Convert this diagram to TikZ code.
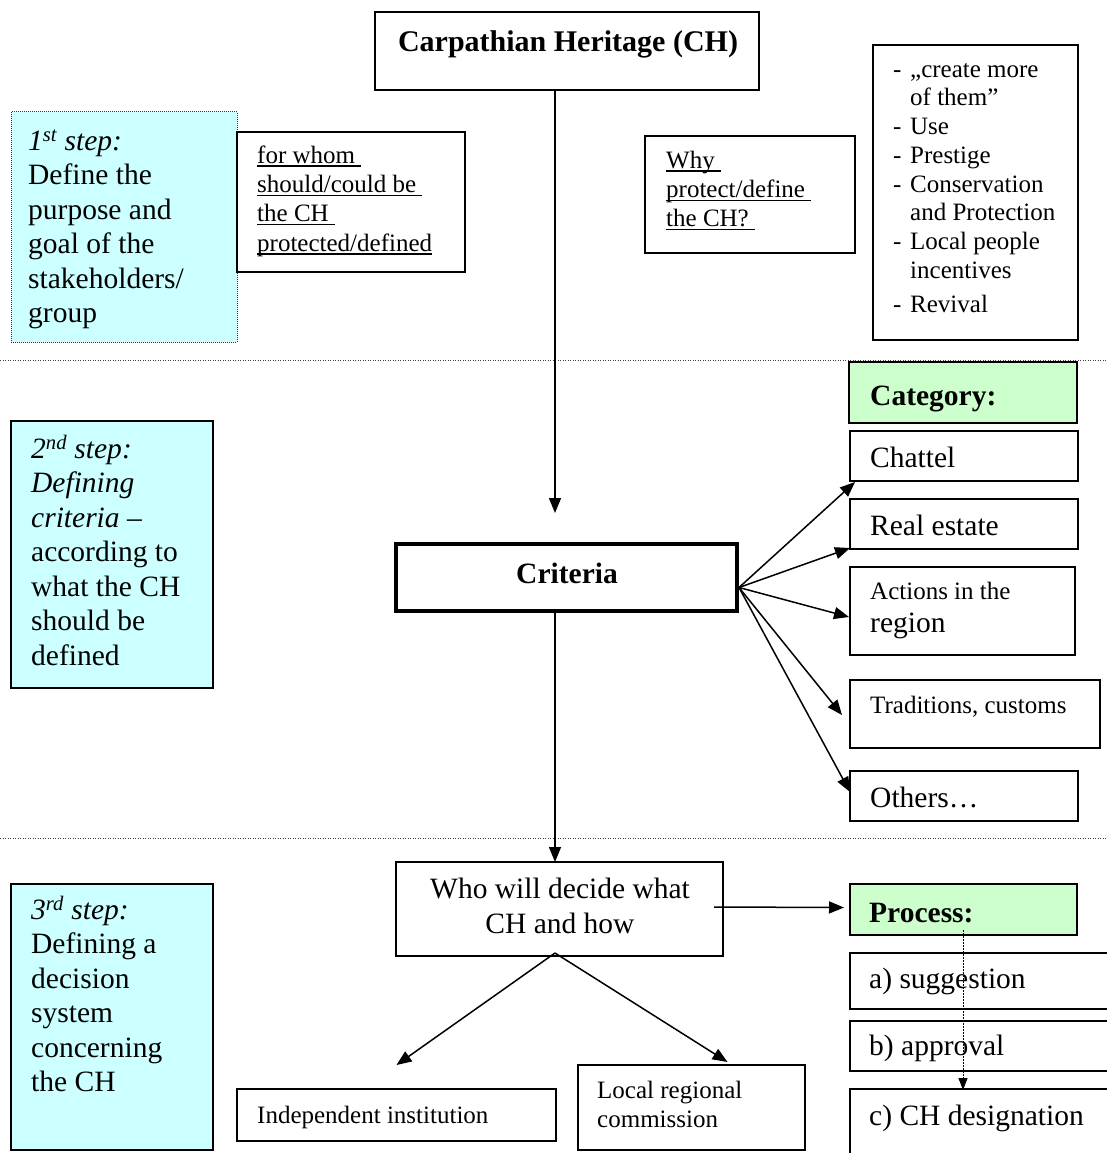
\documentclass[tikz,border=0pt]{standalone}
\usepackage{fontspec}
\setmainfont{Liberation Serif}
\usetikzlibrary{arrows.meta,calc}
\definecolor{stepcyan}{HTML}{CCFFFF}
\definecolor{catgreen}{HTML}{CCFFCC}
\newcommand\tstr{\rule{0pt}{25pt}}
\newcommand\myul[1]{\setbox0\hbox{#1}\rlap{\rule[-3.5pt]{\wd0}{1.3pt}}\box0}
\begin{document}
\begin{tikzpicture}[x=1pt,y=-1pt,
 bx/.style={draw, line width=1.5pt, inner sep=0pt, outer sep=0pt, anchor=north west, rectangle},
 stepbox/.style={bx, fill=stepcyan},
 catbox/.style={bx, fill=catgreen},
 txt/.style={inner sep=0pt, anchor=north west, align=left},
 lbl/.style={inner sep=0pt, anchor=base west},
 big/.style={font=\fontsize{29.5}{34.5}\selectfont},
 bigb/.style={font=\fontsize{29.5}{34.5}\selectfont\bfseries},
 small/.style={font=\fontsize{25}{29.3}\selectfont},
 arr/.style={line width=1.5pt, -{Triangle[length=15pt,width=12pt]}},
 sep/.style={line width=1pt, dash pattern=on 1pt off 1.5pt, black!75},
]
\useasboundingbox (0,0) rectangle (1107,1153);

% separators
\draw[sep] (0,360) -- (1107,360);
\draw[sep] (0,838) -- (1107,838);

% ---- boxes
\node[bx, minimum width=384pt, minimum height=78pt] (title) at (375,12) {};
\node[stepbox, draw=black!80, line width=1pt, dash pattern=on 1pt off 1pt, minimum width=226pt, minimum height=230pt] (s1) at (11,112) {};
\node[bx, minimum width=228pt, minimum height=140pt] (whom) at (237,132) {};
\node[bx, minimum width=210pt, minimum height=117pt] (why) at (645,136) {};
\node[bx, minimum width=205pt, minimum height=295pt] (list) at (873,45) {};
\node[stepbox, minimum width=202pt, minimum height=267pt] (s2) at (11,421) {};
\node[bx, line width=4.5pt, minimum width=341pt, minimum height=67pt] (crit) at (396,544) {};
\node[catbox, minimum width=228pt, minimum height=61pt] (cat) at (849,362) {};
\node[bx, minimum width=228pt, minimum height=50pt] (chat) at (850,431) {};
\node[bx, minimum width=228pt, minimum height=50pt] (real) at (850,499) {};
\node[bx, minimum width=225pt, minimum height=88pt] (act) at (850,567) {};
\node[bx, minimum width=250pt, minimum height=68pt] (trad) at (850,680) {};
\node[bx, minimum width=228pt, minimum height=50pt] (oth) at (850,771) {};
\node[bx, minimum width=327pt, minimum height=94pt] (who) at (396,862) {};
\node[catbox, minimum width=227pt, minimum height=51pt] (proc) at (850,884) {};
\node[bx, minimum width=280pt, minimum height=56pt] (sa) at (850,953) {};
\node[bx, minimum width=280pt, minimum height=50pt] (sb) at (850,1021) {};
\node[bx, minimum width=280pt, minimum height=100pt] (sc) at (850,1089) {};
\node[stepbox, minimum width=202pt, minimum height=266pt] (s3) at (11,884) {};
\node[bx, minimum width=319pt, minimum height=52pt] (indep) at (237,1089) {};
\node[bx, minimum width=227pt, minimum height=85pt] (local) at (578,1065) {};

% ---- texts
\node[inner sep=0pt, anchor=base, font=\fontsize{30}{35}\selectfont\bfseries] (titlet) at (568,52) {Carpathian Heritage (CH)};
\node[txt, big] (s1t) at (28,125) {\tstr\textit{1\textsuperscript{st} step:}\\Define the\\purpose and\\goal of the\\stakeholders/\\group};
\node[txt, small] (whomt) at (257,138) {\tstr\myul{for whom\ }\\\myul{should/could be\ }\\\myul{the CH\ }\\\myul{protected/defined}};
\node[txt, small] (whyt) at (666,143) {\tstr\myul{Why\ }\\\myul{protect/define\ }\\\myul{the CH?\ }};
\node[txt, font=\fontsize{25}{28.7}\selectfont] (listt) at (893,52) {\tstr\makebox[17pt][l]{-}„create more\\\hspace*{17pt}of them”\\\makebox[17pt][l]{-}Use\\\makebox[17pt][l]{-}Prestige\\\makebox[17pt][l]{-}Conservation\\\hspace*{17pt}and Protection\\\makebox[17pt][l]{-}Local people\\\hspace*{17pt}incentives\\[6pt]\makebox[17pt][l]{-}Revival};
\node[txt, big] (s2t) at (31,433) {\tstr\textit{2\textsuperscript{nd} step:}\\\textit{Defining}\\\textit{criteria –}\\according to\\what the CH\\should be\\defined};
\node[inner sep=0pt, anchor=base, bigb] (critt) at (567,583) {Criteria};
\node[lbl, bigb] (catt) at (870,405) {Category:};
\node[lbl, big] (chatt) at (870,467) {Chattel};
\node[lbl, big] (realt) at (870,535) {Real estate};
\node[lbl, small] (actt1) at (870,599) {Actions in the};
\node[lbl, big] (actt2) at (870,632) {region};
\node[lbl, small] (tradt) at (870,713) {Traditions, customs};
\node[lbl, big] (otht) at (870,807) {Others…};
\node[inner sep=0pt, anchor=north, align=center, font=\fontsize{29.5}{35}\selectfont] (whot) at (560,873) {\tstr Who will decide what\\CH and how};
\node[lbl, bigb] (proct) at (869,922) {Process:};
\node[lbl, big] (sat) at (869,988) {a) suggestion};
\node[lbl, big] (sbt) at (869,1055) {b) approval};
\node[lbl, big] (sct) at (869,1125) {c) CH designation};
\node[txt, big] (s3t) at (31,894) {\tstr\textit{3\textsuperscript{rd} step:}\\Defining a\\decision\\system\\concerning\\the CH};
\node[lbl, small] (indept) at (257,1123) {Independent institution};
\node[txt, font=\fontsize{25}{29}\selectfont] (localt) at (597,1073) {\tstr Local regional\\commission};

% ---- connectors
\coordinate (ax) at (555,0);
\coordinate (critin) at (555,513);
\draw[arr] (title.south -| ax) -- (critin);
\draw[arr] (crit.south -| ax) -- (who.north -| ax);

\coordinate (co) at ($(crit.east)+(2,10)$);
\coordinate (tc) at ($(chat.south west)+(5,1)$);
\coordinate (tr) at ($(real.south west)+(0,-1)$);
\coordinate (ta) at ($(act.west)+(-1,6)$);
\coordinate (tt) at ($(trad.west)+(-8,1)$);
\coordinate (to) at ($(oth.west)+(0,-4)$);
\draw[arr] (co) -- (tc);
\draw[arr] (co) -- (tr);
\draw[arr] (co) -- (ta);
\draw[arr] (co) -- (tt);
\draw[arr] (co) -- (to);

\coordinate (wp1) at ($(who.east)+(-9,-2)$);
\coordinate (wp2) at ($(proc.west)+(-6,-2)$);
\draw[arr] (wp1) -- (wp2);

\coordinate (wb) at ($(who.south -| ax)+(0,-3)$);
\coordinate (ti) at ($(indep.north)+(0,-24)$);
\coordinate (tl) at ($(local.north)+(36,-3)$);
\draw[arr] (wb) -- (ti);
\draw[arr] (wb) -- (tl);

\coordinate (pd1) at ($(proc.south west)+(113,-5)$);
\coordinate (pd2) at ($(sc.north west)+(113,1)$);
\draw[line width=1pt, dash pattern=on 1.5pt off 1.5pt, -{Triangle[length=12pt,width=9pt]}] (pd1) -- (pd2);
\end{tikzpicture}
\end{document}
